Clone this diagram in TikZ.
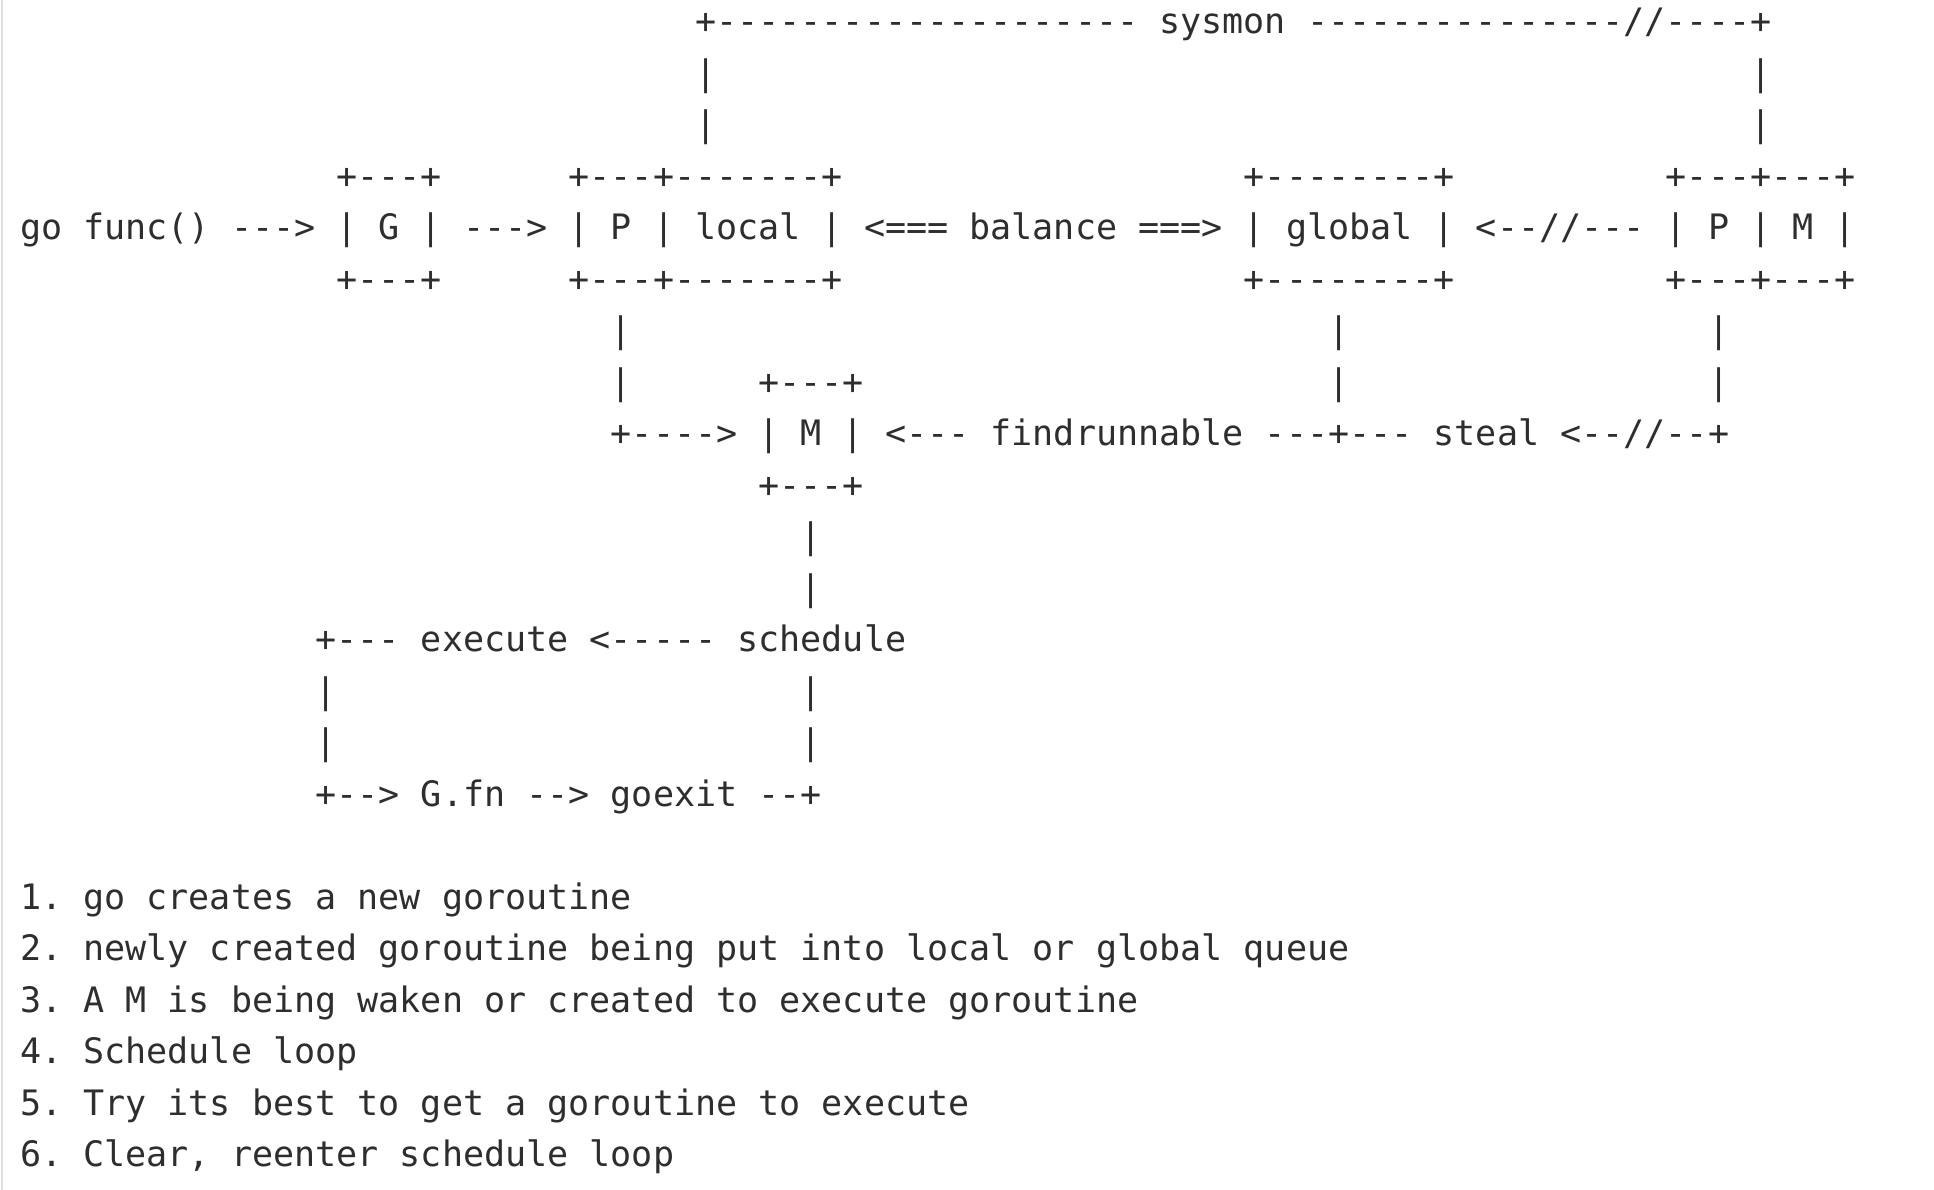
\documentclass[tikz,border=0pt]{standalone}
\usepackage{fontspec}
\setmonofont{DejaVu Sans Mono}
\newlength\cw
\setlength\cw{21.1pt}
\newcommand\sk[1]{\hspace*{#1\cw}}
\begin{document}
\begin{tikzpicture}[x=1pt,y=1pt,
  ascii/.style={anchor=base west,inner sep=0pt,outer sep=0pt,text=black!82,
    font=\fontsize{35.05pt}{42pt}\selectfont\ttfamily\frenchspacing}]
\useasboundingbox (0,0) rectangle (1934,1190);
\fill[white] (0,0) rectangle (1934,1190);
\draw[black!12,line width=2pt] (1.5,0) coordinate (fa) -- (1.5,1190) coordinate (fb);
% baseline of line n (from top): 240 + (n-5)*51.5 ; tikz y = 1190 - that
\def\lx#1{\fpeval{20+#1*21.1}}
\def\ly#1{\fpeval{1190-(240+(#1-5)*51.5)}}
\node[ascii] (l1) at (\lx{32},\ly{1}) {+--------------------~sysmon~---------------//----+};
\node[ascii] (l2) at (\lx{32},\ly{2}) {|\sk{49}|};
\node[ascii] (l3) at (\lx{32},\ly{3}) {|\sk{49}|};
\node[ascii] (l4) at (\lx{15},\ly{4}) {+---+\sk{6}+---+-------+\sk{19}+--------+\sk{10}+---+---+};
\node[ascii] (l5) at (\lx{0},\ly{5}) {go~func()~--->~|~G~|~--->~|~P~|~local~|~<===~balance~===>~|~global~|~<--//---~|~P~|~M~|};
\node[ascii] (l6) at (\lx{15},\ly{6}) {+---+\sk{6}+---+-------+\sk{19}+--------+\sk{10}+---+---+};
\node[ascii] (l7) at (\lx{28},\ly{7}) {|\sk{33}|\sk{17}|};
\node[ascii] (l8) at (\lx{28},\ly{8}) {|\sk{6}+---+\sk{22}|\sk{17}|};
\node[ascii] (l9) at (\lx{28},\ly{9}) {+---->~|~M~|~<---~findrunnable~---+---~steal~<--//--+};
\node[ascii] (l10) at (\lx{35},\ly{10}) {+---+};
\node[ascii] (l11) at (\lx{37},\ly{11}) {|};
\node[ascii] (l12) at (\lx{37},\ly{12}) {|};
\node[ascii] (l13) at (\lx{14},\ly{13}) {+---~execute~<-----~schedule};
\node[ascii] (l14) at (\lx{14},\ly{14}) {|\sk{22}|};
\node[ascii] (l15) at (\lx{14},\ly{15}) {|\sk{22}|};
\node[ascii] (l16) at (\lx{14},\ly{16}) {+-->~G.fn~-->~goexit~--+};
\node[ascii] (l18) at (\lx{0},\ly{18}) {1.~go~creates~a~new~goroutine};
\node[ascii] (l19) at (\lx{0},\ly{19}) {2.~newly~created~goroutine~being~put~into~local~or~global~queue};
\node[ascii] (l20) at (\lx{0},\ly{20}) {3.~A~M~is~being~waken~or~created~to~execute~goroutine};
\node[ascii] (l21) at (\lx{0},\ly{21}) {4.~Schedule~loop};
\node[ascii] (l22) at (\lx{0},\ly{22}) {5.~Try~its~best~to~get~a~goroutine~to~execute};
\node[ascii] (l23) at (\lx{0},\ly{23}) {6.~Clear,~reenter~schedule~loop};
\end{tikzpicture}
\end{document}
